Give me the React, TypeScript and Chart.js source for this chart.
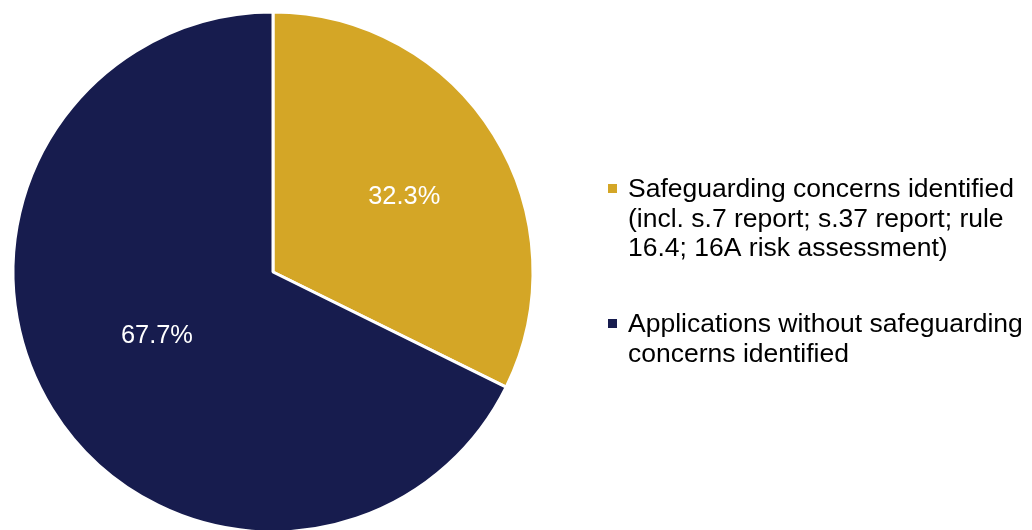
import React, { useEffect, useRef } from "react";
import { Chart, registerables } from "chart.js";

Chart.register(...registerables);

const categories: string[][] = [
  ["Safeguarding concerns identified", "(incl. s.7 report; s.37 report; rule", "16.4; 16A risk assessment)"],
  ["Applications without safeguarding", "concerns identified"],
];
const values: number[] = [32.3, 67.7];
const valueLabels: string[] = ["32.3%", "67.7%"];
const colors: string[] = ["#D4A626", "#171C4E"];

const FONT = "'Liberation Sans', Arial, sans-serif";

const labelPlugin = {
  id: "sliceLabels",
  afterDatasetsDraw(chart: any) {
    const ctx = chart.ctx;
    const meta = chart.getDatasetMeta(0);
    const fractions = [0.585, 0.506];
    const angleOffsets = [1.5, 3.8];
    const size = 25.4;
    ctx.save();
    ctx.fillStyle = "#FFFFFF";
    ctx.font = `${size}px ${FONT}`;
    ctx.textAlign = "center";
    ctx.textBaseline = "alphabetic";
    meta.data.forEach((arc: any, i: number) => {
      const { x, y, startAngle, endAngle, outerRadius } = arc.getProps(
        ["x", "y", "startAngle", "endAngle", "outerRadius"],
        true
      );
      const mid = (startAngle + endAngle) / 2 + (angleOffsets[i] * Math.PI) / 180;
      const r = outerRadius * fractions[i];
      ctx.fillText(valueLabels[i], x + Math.cos(mid) * r, y + Math.sin(mid) * r + size * 0.36);
    });
    ctx.restore();
  },
};

const legendPlugin = {
  id: "customLegend",
  afterDraw(chart: any) {
    const ctx = chart.ctx;
    ctx.save();
    ctx.font = `26.5px ${FONT}`;
    ctx.textBaseline = "alphabetic";
    ctx.textAlign = "left";
    const lineH = 29.5;
    const boxX = 608;
    const textX = 628;
    const firstBaselines = [197, 332];
    categories.forEach((lines, i) => {
      const base = firstBaselines[i];
      ctx.fillStyle = colors[i];
      ctx.fillRect(boxX, base - 13, 9, 9);
      ctx.fillStyle = "#000000";
      lines.forEach((ln, j) => {
        ctx.fillText(ln, textX, base + j * lineH);
      });
    });
    ctx.restore();
  },
};

export default function App() {
  const ref = useRef<HTMLCanvasElement>(null);
  useEffect(() => {
    document.body.style.margin = "0";
    if (!ref.current) return;
    const chart = new Chart(ref.current, {
      type: "pie",
      data: {
        labels: categories.map((c) => c.join(" ")),
        datasets: [
          {
            data: values,
            backgroundColor: colors,
            borderColor: "#FFFFFF",
            borderWidth: 3,
          },
        ],
      },
      options: {
        animation: false,
        responsive: false,
        layout: { padding: { left: 11.5, top: 10.5, right: 497.5, bottom: 6.5 } },
        plugins: {
          legend: { display: false },
          tooltip: { enabled: false },
        },
      },
      plugins: [labelPlugin, legendPlugin],
    });
    return () => chart.destroy();
  }, []);
  return (
    <div style={{ width: 1032, height: 530, overflow: "hidden" }}>
      <canvas ref={ref} width={1032} height={540} style={{ display: "block" }} />
    </div>
  );
}
